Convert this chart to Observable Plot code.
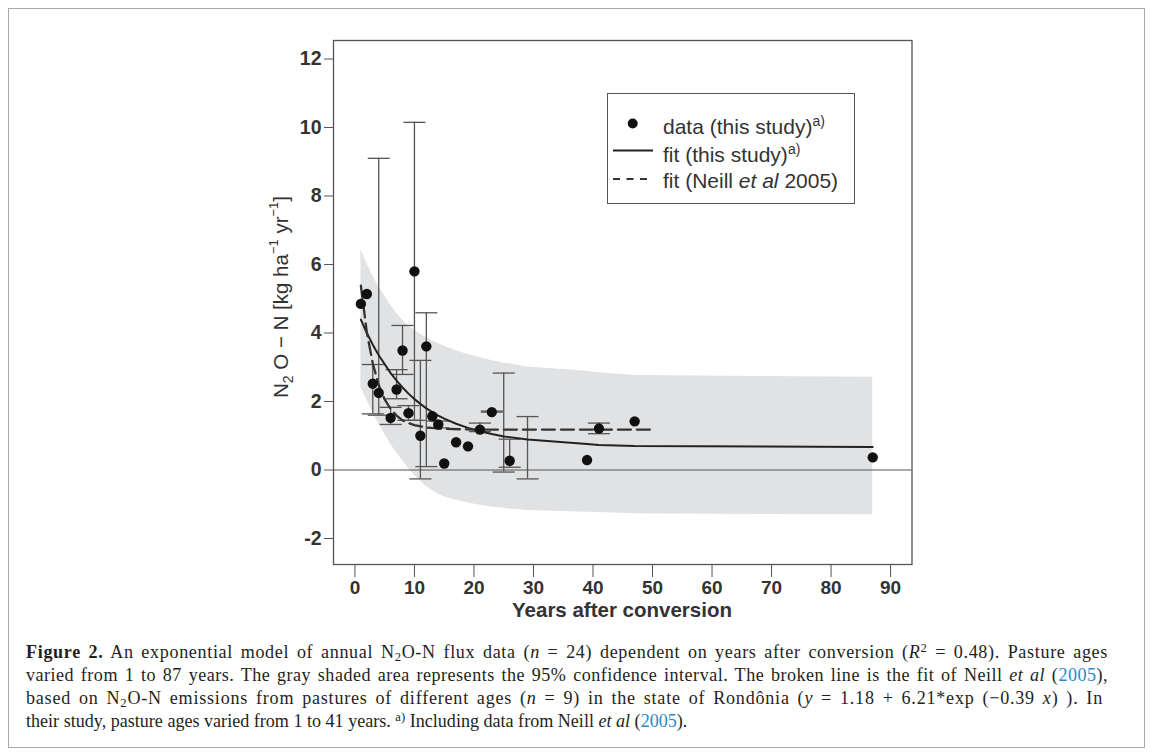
<!DOCTYPE html>
<html><head><meta charset="utf-8">
<script src="https://cdn.jsdelivr.net/npm/d3@7"></script>
<script src="https://cdn.jsdelivr.net/npm/@observablehq/plot@0.6"></script>
<style>
html,body{margin:0;padding:0;background:#fff;}
#page{position:relative;width:1153px;height:755px;overflow:hidden;font-family:"Liberation Sans",Arial,sans-serif;}
#border{position:absolute;left:8px;top:8px;width:1137px;height:740px;border:1px solid #a8a8a8;box-sizing:border-box;}
#chart{position:absolute;left:0;top:0;}
#ylab{position:absolute;left:281px;top:297px;transform:translate(-50%,-50%) rotate(-90deg);white-space:nowrap;font-size:20.5px;color:#333;}
#ylab sub{font-size:14px;vertical-align:-5px;}
#ylab sup{font-size:13px;vertical-align:10px;}
#xlab{position:absolute;left:622px;top:610px;transform:translate(-50%,-50%);white-space:nowrap;font-size:20.5px;font-weight:bold;color:#333;}
#legend{position:absolute;left:607px;top:93px;width:248px;height:111px;border:1.3px solid #555;box-sizing:border-box;background:#fff;}
#legend .t{position:absolute;left:55px;font-size:21px;color:#333;white-space:nowrap;transform:translateY(-50%);}
#legend sup{font-size:14px;vertical-align:8px;}
#caption{position:absolute;left:26px;top:641px;font-family:"Liberation Serif","DejaVu Serif",serif;color:#231f20;}
.cl{display:block;height:23px;line-height:23px;}
.cl span.in{display:inline-block;white-space:nowrap;}
#caption a{color:#2a8ac8;text-decoration:none;}
#caption sub{font-size:0.7em;vertical-align:-3px;line-height:0;}
#caption sup{font-size:0.7em;vertical-align:6px;line-height:0;}
</style>
</head><body>
<div id="page">
  <div id="border"></div>
  <div id="chart"></div>
  <div id="ylab">N<sub>2</sub> O − N [kg ha<sup>−1</sup> yr<sup>−1</sup>]</div>
  <div id="xlab">Years after conversion</div>
  <div id="legend">
    <svg width="248" height="111" style="position:absolute;left:0;top:0">
      <circle cx="24.7" cy="29.5" r="5" fill="#111"></circle>
      <line x1="5" x2="45" y1="56.5" y2="56.5" stroke="#222" stroke-width="2"></line>
      <line x1="5" x2="45" y1="85" y2="85" stroke="#333" stroke-width="2" stroke-dasharray="7,6.5"></line>
    </svg>
    <div class="t" style="top:32px">data (this study)<sup>a)</sup></div>
    <div class="t" style="top:60px">fit (this study)<sup>a)</sup></div>
    <div class="t" style="top:87px">fit (Neill <i>et al</i> 2005)</div>
  </div>
  <div id="caption">
    <div class="cl"><span class="in" data-w="1082"><b>Figure 2.</b> An exponential model of annual N<sub>2</sub>O-N flux data (<i>n</i> = 24) dependent on years after conversion (<i>R</i><sup>2</sup> = 0.48). Pasture ages</span></div>
    <div class="cl"><span class="in" data-w="1082">varied from 1 to 87 years. The gray shaded area represents the 95% confidence interval. The broken line is the fit of Neill <i>et al</i> (<a>2005</a>),</span></div>
    <div class="cl"><span class="in" data-w="1077">based on N<sub>2</sub>O-N emissions from pastures of different ages (<i>n</i> = 9) in the state of Rondônia (<i>y</i> = 1.18 + 6.21*exp (−0.39 <i>x</i>) ). In</span></div>
    <div class="cl"><span class="in" id="last">their study, pasture ages varied from 1 to 41 years. <sup>a)</sup> Including data from Neill <i>et al</i> (<a>2005</a>).</span></div>
  </div>
</div>
<script>
// ---- data ----
const ptX = [1, 2, 3, 4, 6, 7, 8, 9, 10, 11, 12, 13, 14, 15, 17, 19, 21, 23, 26, 39, 41, 47, 87];
const ptY = [4.85, 5.14, 2.52, 2.25, 1.52, 2.35, 3.49, 1.66, 5.80, 1.00, 3.61, 1.57, 1.33, 0.19, 0.81, 0.69, 1.18, 1.69, 0.27, 0.29, 1.21, 1.42, 0.37];

const ebX  = [3, 4, 6, 7, 8, 9, 10, 11, 12, 14, 21, 23, 25, 26, 29, 41];
const ebLo = [1.64, 1.60, 1.33, 2.08, 2.79, 1.45, 1.45, -0.26, 0.10, 1.23, 1.12, 1.69, -0.06, 0.08, -0.26, 1.06];
const ebHi = [3.08, 9.10, 1.83, 2.93, 4.22, 1.88, 10.15, 3.20, 4.59, 1.43, 1.37, 1.72, 2.83, 0.90, 1.56, 1.37];

const fitX  = [1, 2, 3, 4, 6, 7, 8, 9, 10, 11, 12, 13, 14, 15, 17, 19, 21, 23, 25, 26, 29, 39, 41, 47, 87];
const fitY  = [4.39, 4.00, 3.66, 3.35, 2.83, 2.61, 2.41, 2.23, 2.07, 1.93, 1.80, 1.69, 1.59, 1.50, 1.35, 1.23, 1.13, 1.05, 0.98, 0.96, 0.89, 0.76, 0.73, 0.70, 0.67];
const ciHi  = [6.44, 6.03, 5.67, 5.35, 4.81, 4.58, 4.37, 4.21, 4.07, 3.96, 3.86, 3.77, 3.69, 3.61, 3.48, 3.37, 3.28, 3.20, 3.12, 3.10, 3.01, 2.88, 2.84, 2.76, 2.71];
const ciLo  = [2.40, 2.05, 1.68, 1.35, 0.75, 0.50, 0.28, 0.05, -0.15, -0.32, -0.48, -0.60, -0.70, -0.78, -0.88, -0.96, -1.03, -1.08, -1.12, -1.14, -1.18, -1.23, -1.24, -1.28, -1.31];

const neillX = [1, 2, 3, 4, 5, 6, 7, 8, 9, 10, 12, 15, 20, 30, 50];
const neillY = [5.38, 4.02, 3.11, 2.48, 2.06, 1.78, 1.59, 1.45, 1.37, 1.31, 1.24, 1.20, 1.18, 1.18, 1.18];

const xTicks = [0, 10, 20, 30, 40, 50, 60, 70, 80, 90];
const yTicks = [-2, 0, 2, 4, 6, 8, 10, 12];

// ---- tables ----
const pts = ptX.map((x, i) => ({x, y: ptY[i]}));
const bars = ebX.map((x, i) => ({x, lo: ebLo[i], hi: ebHi[i]}));
const fit = fitX.map((x, i) => ({x, y: fitY[i], lo: ciLo[i], hi: ciHi[i]}));
const neill = neillX.map((x, i) => ({x, y: neillY[i]}));

const cap = {draw(ctx) { ctx.moveTo(-11, 0); ctx.lineTo(11, 0); }};
const axisColor = "#555";

const chart = Plot.plot({
  width: 1153,
  height: 630,
  marginLeft: 333,
  marginRight: 241.5,
  marginTop: 40,
  marginBottom: 66,
  x: {domain: [-3.6, 93.6]},
  y: {domain: [-2.759, 12.54]},
  style: {fontFamily: "'Liberation Sans', Arial, sans-serif", color: "#333", background: "transparent"},
  marks: [
    Plot.areaY(fit, {x: "x", y1: "lo", y2: "hi", fill: "#e1e2e4"}),
    Plot.ruleY([0], {stroke: axisColor, strokeWidth: 1.1}),
    Plot.ruleX(bars, {x: "x", y1: "lo", y2: "hi", stroke: axisColor, strokeWidth: 1.3}),
    Plot.dot(bars, {x: "x", y: "hi", symbol: cap, fill: "none", stroke: axisColor, strokeWidth: 1.3}),
    Plot.dot(bars, {x: "x", y: "lo", symbol: cap, fill: "none", stroke: axisColor, strokeWidth: 1.3}),
    Plot.line(fit, {x: "x", y: "y", stroke: "#222", strokeWidth: 2}),
    Plot.line(neill, {x: "x", y: "y", stroke: "#333", strokeWidth: 2.3, strokeDasharray: "13,6"}),
    Plot.dot(pts, {x: "x", y: "y", r: 5.2, fill: "#111"}),
    Plot.frame({stroke: axisColor, strokeWidth: 1.3}),
    Plot.axisY({ticks: yTicks, tickSize: 9, tickPadding: 3, fontSize: 19.5, fontWeight: "bold", label: null, tickFormat: d => String(d), stroke: axisColor}),
    Plot.axisX({ticks: xTicks, tickSize: 13, tickPadding: 3, fontSize: 19, fontWeight: "bold", label: null, tickFormat: d => String(d), stroke: axisColor})
  ]
});
document.getElementById("chart").appendChild(chart);

// ---- caption fitting ----
const last = document.getElementById("last");
const capEl = document.getElementById("caption");
let fs = 18;
capEl.style.fontSize = fs + "px";
const w0 = last.getBoundingClientRect().width;
fs = fs * 662 / w0;
capEl.style.fontSize = fs + "px";
document.querySelectorAll("#caption .in[data-w]").forEach(el => {
  const target = +el.dataset.w;
  const w = el.getBoundingClientRect().width;
  const nChars = el.textContent.length;
  const nSpaces = (el.textContent.match(/ /g) || []).length;
  const gap = target - w;
  el.style.letterSpacing = (gap * 0.6 / nChars) + "px";
  const w2 = el.getBoundingClientRect().width;
  el.style.wordSpacing = ((target - w2) / nSpaces) + "px";
});
</script>
</body></html>
